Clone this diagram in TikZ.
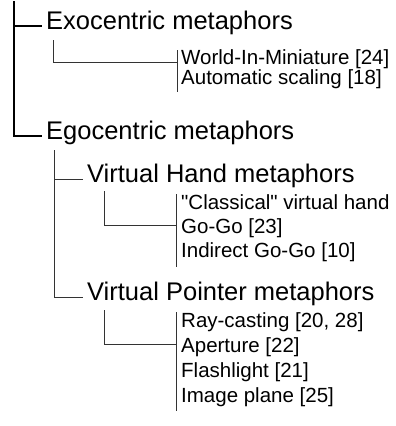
\documentclass[tikz,border=0pt]{standalone}
\usepackage{fontspec}
\setmainfont{Liberation Sans}[Ligatures=TeXOff]
\newcommand\sq{\char"22\relax}
\begin{document}
\begin{tikzpicture}[x=1pt,y=-1pt,
  big/.style={anchor=west,inner sep=0pt,font=\fontsize{25.5}{25.5}\selectfont,text height=.716em,text depth=0pt},
  small/.style={anchor=west,inner sep=0pt,font=\fontsize{20.5}{20.5}\selectfont,text height=.716em,text depth=0pt},
  trunk/.style={line width=2pt},
  branch/.style={line width=0.9pt,draw=black!80}]
\useasboundingbox (0,0) rectangle (396,426);
% nodes
\node[big] (exo) at (46,26) {Exocentric metaphors};
\node[small] (world) at (181,61) {World-In-Miniature [24]};
\node[small] (auto) at (181,81) {Automatic scaling [18]};
\node[big] (ego) at (46,136) {Egocentric metaphors};
\node[big] (vh) at (87,179) {Virtual Hand metaphors};
\node[small] (classical) at (181,206) {\sq Classical\sq{} virtual hand};
\node[small] (gogo) at (181,230) {Go-Go [23]};
\node[small] (indirect) at (181,254) {Indirect Go-Go [10]};
\node[big] (vp) at (87,297) {Virtual Pointer metaphors};
\node[small] (ray) at (181,324) {Ray-casting [20, 28]};
\node[small] (aperture) at (181,349) {Aperture [22]};
\node[small] (flash) at (181,374) {Flashlight [21]};
\node[small] (image) at (181,399) {Image plane [25]};
% coordinates
\coordinate (top) at (14,1);
\coordinate (exoS) at (53,40);
\coordinate (exoBar) at (177,62);
\coordinate (exoBarT) at (177,50);
\coordinate (exoBarB) at (177,92);
\coordinate (egoS) at (54,150);
\coordinate (vhS) at (104,191);
\coordinate (vhBar) at (176,225);
\coordinate (vhBarT) at (176,194);
\coordinate (vhBarB) at (176,267);
\coordinate (vpS) at (104,310);
\coordinate (vpBar) at (176,344);
\coordinate (vpBarT) at (176,312);
\coordinate (vpBarB) at (176,411);
% trunk
\draw[trunk] (top) |- ([xshift=-4pt]ego.west);
\draw[trunk] (top |- exo.west) -- ([xshift=-4pt]exo.west);
% exocentric
\draw[branch] (exoS) |- (exoBar);
\draw[branch] (exoBarT) -- (exoBarB);
% egocentric
\draw[branch] (egoS) |- ([xshift=-4pt]vp.west);
\draw[branch] (egoS |- vh.west) -- ([xshift=-4pt]vh.west);
\draw[branch] (vhS) |- (vhBar);
\draw[branch] (vhBarT) -- (vhBarB);
\draw[branch] (vpS) |- (vpBar);
\draw[branch] (vpBarT) -- (vpBarB);
\end{tikzpicture}
\end{document}
